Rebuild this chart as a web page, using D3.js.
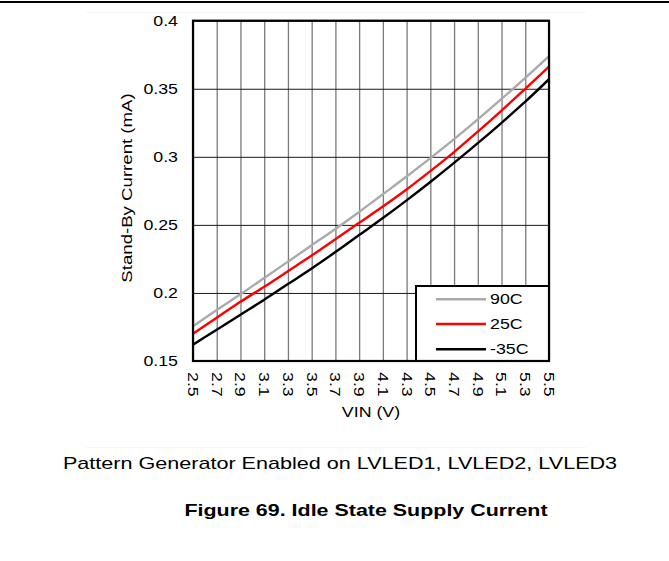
<!DOCTYPE html>
<html>
<head>
<meta charset="utf-8">
<script src="https://cdn.jsdelivr.net/npm/d3@7"></script>
<style>
  html, body { margin: 0; padding: 0; background: #fff; }
  svg { display: block; }
  text { font-family: "Liberation Sans", Arial, sans-serif; fill: #000; }
</style>
</head>
<body>
<svg id="chart" width="669" height="561"></svg>
<script>
// Supply voltage (V) sample points
const vin = [2.5, 2.7, 2.9, 3.1, 3.3, 3.5, 3.7, 3.9, 4.1, 4.3, 4.5, 4.7, 4.9, 5.1, 5.3, 5.5];
// Stand-by current (mA) per temperature
const i90C  = [0.1755, 0.1875, 0.1990, 0.2110, 0.2230, 0.2350, 0.2470, 0.2595, 0.2725, 0.2855, 0.2990, 0.3130, 0.3275, 0.3425, 0.3580, 0.3740];
const i25C  = [0.1700, 0.1818, 0.1935, 0.2045, 0.2160, 0.2275, 0.2395, 0.2515, 0.2635, 0.2760, 0.2895, 0.3035, 0.3185, 0.3340, 0.3500, 0.3662];
const iM35C = [0.1620, 0.1730, 0.1840, 0.1950, 0.2065, 0.2180, 0.2300, 0.2425, 0.2550, 0.2680, 0.2815, 0.2955, 0.3100, 0.3250, 0.3405, 0.3570];
const seriesNames = ["90C", "25C", "-35C"];
const seriesColors = ["#aaaaaa", "#ff0000", "#000000"];
const xTicks = ["2.5","2.7","2.9","3.1","3.3","3.5","3.7","3.9","4.1","4.3","4.5","4.7","4.9","5.1","5.3","5.5"];
const yTicks = ["0.15","0.2","0.25","0.3","0.35","0.4"];

const svg = d3.select("#chart");
const W = 669;
const SX = 1.27; // glyph widening used by all chart text

const plot = { left: 193, top: 20.7, right: 549, bottom: 361 };
const x = d3.scaleLinear().domain([2.5, 5.5]).range([plot.left, plot.right]);
const y = d3.scaleLinear().domain([0.15, 0.4]).range([plot.bottom, plot.top]);

// rule across the top of the page
svg.append("line").attr("x1", 0).attr("x2", W).attr("y1", 2).attr("y2", 2)
  .attr("stroke", "#000").attr("stroke-width", 2);

// faint edges of the figure area
[12.5, 447.5].forEach(yy => {
  svg.append("line").attr("x1", 86).attr("x2", 586).attr("y1", yy).attr("y2", yy)
    .attr("stroke", "#f6f6f6").attr("stroke-width", 1);
});

// vertical grid
const xAxisGrid = d3.axisBottom(x).tickValues(xTicks.map(Number)).tickSize(-(plot.bottom - plot.top)).tickFormat("");
svg.append("g").attr("transform", `translate(0,${plot.bottom})`).call(xAxisGrid)
  .call(g => g.select(".domain").remove())
  .call(g => g.selectAll(".tick line").attr("stroke", "#7a7a7a").attr("stroke-width", 1.3));

// horizontal grid
const yAxisGrid = d3.axisLeft(y).tickValues(yTicks.map(Number)).tickSize(-(plot.right - plot.left)).tickFormat("");
svg.append("g").attr("transform", `translate(${plot.left},0)`).call(yAxisGrid)
  .call(g => g.select(".domain").remove())
  .call(g => g.selectAll(".tick line").attr("stroke", "#1a1a1a").attr("stroke-width", 1));

// y tick labels
svg.append("g").selectAll("text").data(yTicks).join("text")
  .attr("transform", d => `translate(178,${y(+d)}) scale(${SX},1)`)
  .attr("text-anchor", "end").attr("dy", "0.36em")
  .style("font-size", "14px").text(d => d);

// x tick labels, rotated
svg.append("g").selectAll("text").data(xTicks).join("text")
  .attr("transform", d => `translate(${x(+d)},372) rotate(90) scale(${SX},1)`)
  .attr("text-anchor", "start").attr("dy", "0.36em")
  .style("font-size", "14px").text(d => d);

// axis titles
svg.append("text")
  .attr("transform", `translate(371,417) scale(${SX},1)`)
  .attr("text-anchor", "middle").style("font-size", "14px").text("VIN (V)");
svg.append("text")
  .attr("transform", `translate(132,188) rotate(-90) scale(${1.33},1)`)
  .attr("text-anchor", "middle").style("font-size", "14px").text("Stand-By Current (mA)");

// curves
const seriesData = [i90C, i25C, iM35C];
const line = d3.line().x((d, i) => x(vin[i])).y(d => y(d)).curve(d3.curveMonotoneX);
svg.append("clipPath").attr("id", "plotclip").append("rect")
  .attr("x", plot.left).attr("y", plot.top)
  .attr("width", plot.right - plot.left).attr("height", plot.bottom - plot.top);
svg.append("g").attr("clip-path", "url(#plotclip)")
  .selectAll("path").data(seriesData).join("path")
  .attr("d", d => line(d)).attr("fill", "none")
  .attr("stroke", (d, i) => seriesColors[i]).attr("stroke-width", 2.4);

// legend
const lg = { x0: 416, y0: 286, x1: 549, y1: 361 };
svg.append("rect").attr("x", lg.x0).attr("y", lg.y0)
  .attr("width", lg.x1 - lg.x0).attr("height", lg.y1 - lg.y0)
  .attr("fill", "#fff").attr("stroke", "#000").attr("stroke-width", 2);
const rowY = [299.3, 324, 349.3];
const lgRows = svg.append("g").selectAll("g").data(seriesNames).join("g");
lgRows.append("line").attr("x1", 436).attr("x2", 486)
  .attr("y1", (d, i) => rowY[i]).attr("y2", (d, i) => rowY[i])
  .attr("stroke", (d, i) => seriesColors[i]).attr("stroke-width", 2.4);
lgRows.append("text")
  .attr("transform", (d, i) => `translate(490,${rowY[i]}) scale(${SX},1)`)
  .attr("dy", "0.36em").style("font-size", "14px").text(d => d);

// plot frame
svg.append("rect").attr("x", plot.left).attr("y", plot.top)
  .attr("width", plot.right - plot.left).attr("height", plot.bottom - plot.top)
  .attr("fill", "none").attr("stroke", "#000").attr("stroke-width", 2.2);

// captions
svg.append("text").attr("transform", "translate(340,469) scale(1.27,1)").attr("text-anchor", "middle")
  .style("font-size", "17px").text("Pattern Generator Enabled on LVLED1, LVLED2, LVLED3");
svg.append("text").attr("transform", "translate(366,516) scale(1.34,1)").attr("text-anchor", "middle")
  .style("font-size", "16px").style("font-weight", "bold").text("Figure 69. Idle State Supply Current");
</script>
</body>
</html>
